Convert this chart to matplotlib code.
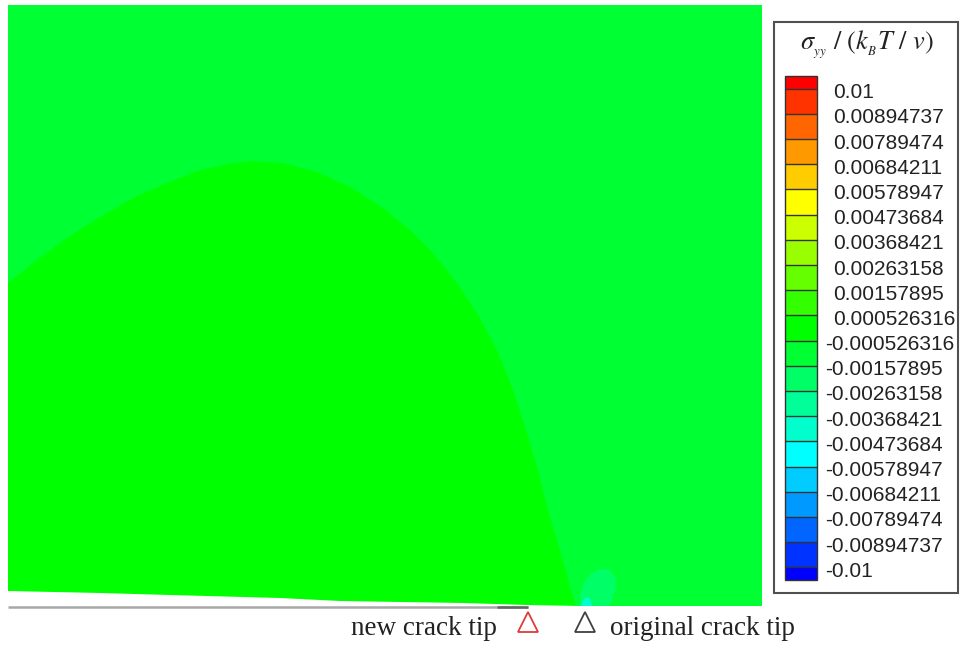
import matplotlib
matplotlib.use("Agg")
import matplotlib.pyplot as plt
import matplotlib.transforms as mtransforms
from matplotlib.colors import ListedColormap, BoundaryNorm
from matplotlib.patches import Rectangle

plt.rcParams["mathtext.fontset"] = "stix"

# contour levels shown in the legend (bottom to top)
levels = [-0.01, -0.00894737, -0.00789474, -0.00684211, -0.00578947,
          -0.00473684, -0.00368421, -0.00263158, -0.00157895, -0.000526316,
          0.000526316, 0.00157895, 0.00263158, 0.00368421, 0.00473684,
          0.00578947, 0.00684211, 0.00789474, 0.00894737, 0.01]
level_labels = ["-0.01", "-0.00894737", "-0.00789474", "-0.00684211", "-0.00578947",
                "-0.00473684", "-0.00368421", "-0.00263158", "-0.00157895", "-0.000526316",
                "0.000526316", "0.00157895", "0.00263158", "0.00368421", "0.00473684",
                "0.00578947", "0.00684211", "0.00789474", "0.00894737", "0.01"]
band_colors = ["#0033FF", "#0066FF", "#0099FF", "#00CCFF", "#00FFFF",
               "#00FFCC", "#00FF99", "#00FF66", "#00FF33", "#00FF00",
               "#33FF00", "#66FF00", "#99FF00", "#CCFF00", "#FFFF00",
               "#FFCC00", "#FF9900", "#FF6600", "#FF3300"]
under_color = "#0000FF"
over_color = "#FF0000"

# field regions (domain units), each with its stress value
far_value = -0.001
dome_value = 0.0
dome_x = [0, 25, 59, 92, 125, 159, 192, 225, 242, 275, 309, 342, 375, 402,
          425, 449, 469, 489, 505, 519, 530, 539, 552, 560, 565, 568]
dome_y = [323, 343, 368, 389, 408, 423, 436, 443, 445, 443, 434, 419, 398, 376,
          353, 323, 293, 256, 216, 173, 136, 99, 56, 26, 9, 0]
blob_value = -0.002
blob_x = [572, 572, 576, 583, 592, 601, 607, 608, 604, 601]
blob_y = [0, 11, 23, 32, 37, 36, 29, 18, 6, 0]
spot_value = -0.004
spot_x = [573, 575, 579, 583, 584]
spot_y = [0, 6, 9, 6, 0]
# upper crack face (opening of the crack)
crack_x = [0, 92, 162, 272, 332, 455, 519, 572]
crack_y = [15, 13, 11, 8, 5, 3, 1, 0]
new_tip_x = 520
orig_tip_x = 577
domain_w = 754
domain_h = 601

W, H = 960, 645
fig = plt.figure(figsize=(W / 100, H / 100), dpi=100)

cmap = ListedColormap(band_colors)
cmap.set_under(under_color)
cmap.set_over(over_color)
norm = BoundaryNorm(levels, cmap.N)

ax = fig.add_axes([8 / W, 39 / H, domain_w / W, domain_h / H])
ax.set_xlim(0, domain_w)
ax.set_ylim(0, domain_h)
ax.axis("off")

ax.fill([0, domain_w, domain_w, 0], [0, 0, domain_h, domain_h],
        color=cmap(norm(far_value)), lw=0)
ax.fill(dome_x + [0], dome_y + [0], color=cmap(norm(dome_value)), lw=0)
ax.fill(blob_x, blob_y, color=cmap(norm(blob_value)), lw=0)
ax.fill(spot_x, spot_y, color=cmap(norm(spot_value)), lw=0)
ax.fill(crack_x + [0], crack_y + [0], color="white", lw=0)

# symmetry line / crack
ax.plot([0, new_tip_x], [-0.5, -0.5], color="#a8a8a8", lw=1.8,
        clip_on=False, solid_capstyle="butt")
ax.plot([new_tip_x - 31, new_tip_x], [-0.5, -0.5], color="#666666", lw=1.8,
        clip_on=False, solid_capstyle="butt")

ax.plot(new_tip_x, -15.5, marker="^", ms=15, mfc="none", mec="#e03a3a",
        mew=1.3, clip_on=False)
ax.plot(orig_tip_x, -15.5, marker="^", ms=15, mfc="none", mec="#404040",
        mew=1.3, clip_on=False)
ax.text(new_tip_x - 31, -29, "new crack tip", ha="right", va="baseline",
        family="Liberation Serif", fontsize=19.5, color="#222222")
ax.text(orig_tip_x + 25, -29, "original crack tip", ha="left", va="baseline",
        family="Liberation Serif", fontsize=19.5, color="#222222")

# legend box
fig.add_artist(Rectangle((774 / W, 1 - 593 / H), 184 / W, 571 / H,
                         transform=fig.transFigure, facecolor="white",
                         edgecolor="#505050", lw=1.5, zorder=-1))
fig.text(867 / W, 1 - 45 / H, r"$\sigma_{_{yy}}\ /\ \left(k_{_B}T\ /\ v\right)$",
         ha="center", va="center", fontsize=19, color="#222222")

cax = fig.add_axes([785 / W, 1 - 580 / H, 32 / W, 504 / H])
sm = matplotlib.cm.ScalarMappable(norm=norm, cmap=cmap)
cb = fig.colorbar(sm, cax=cax, extend="both", extendrect=True,
                  extendfrac=0.0265, drawedges=True)
cb.outline.set_edgecolor("#333333")
cb.outline.set_linewidth(1.0)
cb.dividers.set_color("#333333")
cb.dividers.set_linewidth(1.0)
cb.set_ticks([])
cb.minorticks_off()
cax.tick_params(which="both", length=0)

trans = mtransforms.blended_transform_factory(cax.transAxes, cax.transData)
for lev, lab in zip(levels, level_labels):
    dx = 8 if lab.startswith("-") else 16
    off = mtransforms.ScaledTranslation(dx / 100, -4 / 100, fig.dpi_scale_trans)
    cax.text(1, lev, lab, transform=trans + off, ha="left", va="center",
             family="Liberation Sans", fontsize=15, color="#222222")

fig.savefig("out.png", dpi=100)
